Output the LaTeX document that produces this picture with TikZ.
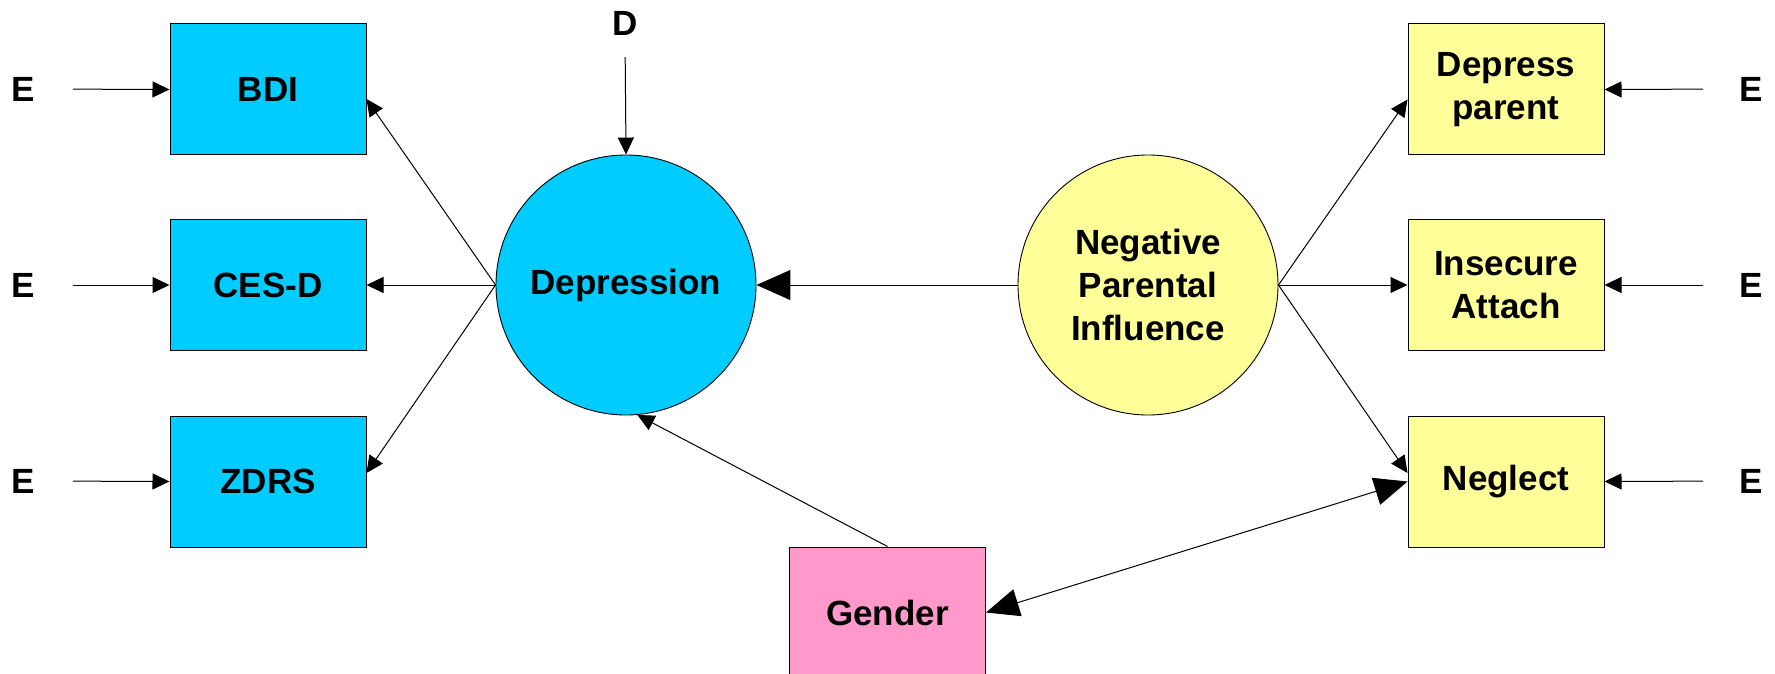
\documentclass[tikz,border=0pt]{standalone}
\usepackage{fontspec}
\setmainfont{Liberation Sans}
\usetikzlibrary{arrows.meta,calc}
\definecolor{cyanfill}{RGB}{0,204,255}
\definecolor{yellowfill}{RGB}{255,255,153}
\definecolor{pinkfill}{RGB}{255,153,204}
\begin{document}
\begin{tikzpicture}[x=1pt,y=-1pt,
  every node/.style={font=\fontsize{35}{43}\selectfont\bfseries, align=center},
  obs/.style={draw=black, line width=1pt, minimum width=196pt, minimum height=131pt, inner sep=0pt},
  lat/.style={draw=black, circle, line width=0.9pt, minimum size=260pt, inner sep=0pt},
  lbl/.style={inner sep=0pt},
  sarr/.style={-{Triangle[length=17pt,width=16pt]}, line width=1pt},
  barr/.style={-{Triangle[length=34pt,width=30pt]}, line width=1pt},
  dbarr/.style={{Triangle[length=33pt,width=28pt]}-{Triangle[length=33pt,width=28pt]}, line width=1pt}]
\useasboundingbox (0,0) rectangle (1775,674);
\clip (0,0) rectangle (1775,674);
% observed, left
\node[obs, fill=cyanfill] (bdi) at (268,89.5) {BDI};
\node[obs, fill=cyanfill] (cesd) at (268,285) {CES-D};
\node[obs, fill=cyanfill] (zdrs) at (268,481.5) {ZDRS};
% latent
\node[lat, fill=cyanfill] (dep) at (626,285) {Depression};
\node[lat, fill=yellowfill] (npi) at (1148,285) {Negative\\Parental\\Influence};
% observed, right
\node[obs, fill=yellowfill] (dp) at (1506,89.5) {Depress\\parent};
\node[obs, fill=yellowfill] (ia) at (1506,285) {Insecure\\Attach};
\node[obs, fill=yellowfill] (ng) at (1506,481.5) {Neglect};
\node[obs, fill=pinkfill] (gen) at (887.5,612.5) {Gender};
% labels
\node[lbl] (d) at (625,23) {D};
\node[lbl] (e1) at (23,89) {E};
\node[lbl] (e2) at (23,285) {E};
\node[lbl] (e3) at (23,481) {E};
\node[lbl] (e4) at (1751,89) {E};
\node[lbl] (e5) at (1751,285) {E};
\node[lbl] (e6) at (1751,481) {E};
% error arrows
\draw[sarr, shorten <=38pt] (e1.east) -- (bdi.west);
\draw[sarr, shorten <=38pt] (e2.east) -- (cesd.west);
\draw[sarr, shorten <=38pt] (e3.east) -- (zdrs.west);
\draw[sarr, shorten <=36pt] (e4.west) -- (dp.east);
\draw[sarr, shorten <=36pt] (e5.west) -- (ia.east);
\draw[sarr, shorten <=36pt] (e6.west) -- (ng.east);
\draw[sarr, shorten <=22pt] (d.south) -- (dep.north);
% loadings
\draw[sarr] (dep.west) -- ($(bdi.east)+(0,9.5)$);
\draw[sarr] (dep.west) -- (cesd.east);
\draw[sarr] (dep.west) -- ($(zdrs.east)+(0,-8.5)$);
\draw[sarr] (npi.east) -- ($(dp.west)+(0,10)$);
\draw[sarr] (npi.east) -- (ia.west);
\draw[sarr] (npi.east) -- ($(ng.west)+(0,-8.5)$);
% structural
\draw[barr] (npi.west) -- (dep.east);
\draw[sarr] (gen.north) -- (dep.-85);
\draw[dbarr] (gen.east) -- (ng.west);
\end{tikzpicture}
\end{document}
